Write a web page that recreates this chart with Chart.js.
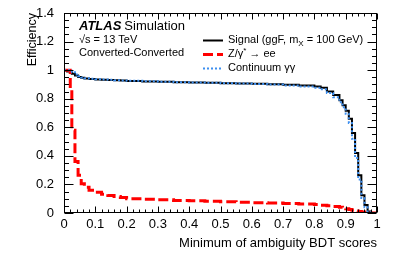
<!DOCTYPE html>
<html>
<head>
<meta charset="utf-8">
<script src="https://cdn.jsdelivr.net/npm/chart.js@4.4.0/dist/chart.umd.min.js"></script>
<style>
  html, body { margin: 0; padding: 0; background: #fff; }
  #wrap { width: 397px; height: 255px; }
</style>
</head>
<body>
<div id="wrap"><canvas id="effChart" width="397" height="255"></canvas></div>
<script>
// bin edges of the histograms (last one closes the last bin)
const binEdges = [0, 0.01, 0.02, 0.025, 0.035, 0.045, 0.055, 0.065, 0.08, 0.1,
  0.12, 0.14, 0.16, 0.18, 0.2, 0.25, 0.3, 0.35, 0.4, 0.45,
  0.5, 0.55, 0.6, 0.65, 0.7, 0.75, 0.8, 0.82, 0.84, 0.86,
  0.88, 0.89, 0.9, 0.91, 0.92, 0.93, 0.94, 0.95, 0.96, 0.97,
  0.98, 0.99, 1.0];

const signalEff = [1.0, 0.998, 0.99, 0.985, 0.975, 0.962, 0.952, 0.946, 0.942,
  0.938, 0.935, 0.933, 0.931, 0.929, 0.927, 0.924, 0.921, 0.918, 0.915,
  0.913, 0.911, 0.909, 0.907, 0.905, 0.902, 0.898, 0.892, 0.886, 0.877,
  0.85, 0.826, 0.79, 0.755, 0.715, 0.66, 0.56, 0.42, 0.265, 0.125,
  0.056, 0.01, 0.0];

const zeeEff = [1.0, 1.0, 1.0, 0.865, 0.58, 0.36, 0.265, 0.205, 0.18,
  0.16, 0.145, 0.132, 0.123, 0.115, 0.108, 0.1, 0.096, 0.092, 0.088,
  0.085, 0.082, 0.078, 0.075, 0.072, 0.07, 0.067, 0.063, 0.06, 0.055,
  0.05, 0.045, 0.04, 0.035, 0.03, 0.024, 0.019, 0.014, 0.01, 0.007,
  0.004, 0.002, 0.0];

const continuumEff = [1.0, 1.0, 1.0, 0.995, 0.985, 0.97, 0.958, 0.949, 0.944,
  0.94, 0.937, 0.934, 0.932, 0.930, 0.928, 0.925, 0.922, 0.919, 0.916,
  0.914, 0.912, 0.909, 0.906, 0.903, 0.899, 0.893, 0.885, 0.877, 0.866,
  0.84, 0.81, 0.775, 0.74, 0.695, 0.63, 0.52, 0.385, 0.235, 0.105,
  0.04, 0.005, 0.0];

const xTickLabels = ['0', '0.1', '0.2', '0.3', '0.4', '0.5', '0.6', '0.7', '0.8', '0.9', '1'];
const yTickLabels = ['0', '0.2', '0.4', '0.6', '0.8', '1', '1.2', '1.4'];

const FONT = '"Liberation Sans", Arial, Helvetica, sans-serif';

function histPoints(vals) {
  const pts = vals.map((v, i) => ({ x: binEdges[i], y: v }));
  pts.push({ x: binEdges[binEdges.length - 1], y: vals[vals.length - 1] });
  return pts;
}

// ROOT style frame with inward ticks, titles, ATLAS label and legend
const atlasDecor = {
  id: 'atlasDecor',
  afterDatasetsDraw(chart) {
    const { ctx, chartArea: a, scales: { x, y } } = chart;
    ctx.save();
    ctx.strokeStyle = '#000';
    ctx.lineWidth = 1;
    const L = Math.round(a.left) + 0.5, R = Math.round(a.right) - 0.5;
    const T = Math.round(a.top) + 0.5, B = Math.round(a.bottom) - 0.5;
    ctx.strokeRect(L, T, R - L, B - T);

    ctx.beginPath();
    for (let i = 0; i <= 50; i++) {
      const px = Math.round(x.getPixelForValue(i * 0.02)) + 0.5;
      const len = i % 5 === 0 ? 6 : 3;
      ctx.moveTo(px, B); ctx.lineTo(px, B - len);
      ctx.moveTo(px, T); ctx.lineTo(px, T + len);
    }
    for (let i = 0; i <= 28; i++) {
      const py = Math.round(y.getPixelForValue(i * 0.05)) + 0.5;
      const len = i % 4 === 0 ? 9 : 4.5;
      ctx.moveTo(L, py); ctx.lineTo(L + len, py);
      ctx.moveTo(R, py); ctx.lineTo(R - len, py);
    }
    ctx.stroke();

    ctx.fillStyle = '#000';
    ctx.textBaseline = 'alphabetic';

    // axis titles
    ctx.font = '13px ' + FONT;
    ctx.textAlign = 'right';
    ctx.fillText('Minimum of ambiguity BDT scores', a.right, 247);
    ctx.save();
    ctx.translate(36, a.top);
    ctx.rotate(-Math.PI / 2);
    ctx.font = '12.5px ' + FONT;
    ctx.fillText('Efficiency', 0, 0);
    ctx.restore();

    // ATLAS label
    ctx.textAlign = 'left';
    ctx.font = 'bold italic 13px ' + FONT;
    ctx.fillText('ATLAS', 79, 30);
    const w = ctx.measureText('ATLAS').width;
    ctx.font = '13px ' + FONT;
    ctx.fillText('Simulation', 79 + w + 3, 30);
    ctx.font = '11px ' + FONT;
    ctx.fillText('\u221As = 13 TeV', 79, 43);
    ctx.fillText('Converted-Converted', 79, 56);

    // legend
    const rows = [40, 54, 68];
    chart.data.datasets.forEach((ds, i) => {
      ctx.save();
      ctx.strokeStyle = ds.borderColor;
      ctx.lineWidth = ds.borderWidth;
      ctx.setLineDash(ds.borderDash || []);
      ctx.beginPath();
      ctx.moveTo(203, rows[i] + 0.5);
      ctx.lineTo(223, rows[i] + 0.5);
      ctx.stroke();
      ctx.restore();
    });
    let tx = 228;
    const parts = [['Signal (ggF, m', 0, 11], ['X', 3, 8], [' = 100 GeV)', 0, 11]];
    parts.forEach(p => {
      ctx.font = p[2] + 'px ' + FONT;
      ctx.fillText(p[0], tx, 43 + p[1]);
      tx += ctx.measureText(p[0]).width;
    });
    tx = 228;
    const zparts = [['Z/\u03B3', 0, 11], ['*', -4, 8], [' \u2192 ee', 0, 11]];
    zparts.forEach(p => {
      ctx.font = p[2] + 'px ' + FONT;
      ctx.fillText(p[0], tx, 57 + p[1]);
      tx += ctx.measureText(p[0]).width;
    });
    ctx.font = '11px ' + FONT;
    ctx.fillText('Continuum \u03B3\u03B3', 228, 71);
    ctx.restore();
  }
};

new Chart(document.getElementById('effChart'), {
  type: 'line',
  data: {
    datasets: [{
      label: 'Signal (ggF, mX = 100 GeV)',
      data: histPoints(signalEff),
      borderColor: '#000000',
      borderWidth: 2,
      stepped: 'after',
      pointRadius: 0,
      fill: false,
      order: 2
    }, {
      label: 'Z/γ* → ee',
      data: histPoints(zeeEff),
      borderColor: '#ff0000',
      borderWidth: 3,
      borderDash: [10, 4],
      stepped: 'after',
      pointRadius: 0,
      fill: false,
      order: 1
    }, {
      label: 'Continuum γγ',
      data: histPoints(continuumEff),
      borderColor: '#3d8ff0',
      borderWidth: 2,
      borderDash: [2, 2],
      stepped: 'after',
      pointRadius: 0,
      fill: false,
      order: 0
    }]
  },
  options: {
    responsive: false,
    animation: false,
    devicePixelRatio: 1,
    layout: { padding: { left: 0, right: 20, top: 13, bottom: 0 } },
    plugins: { legend: { display: false }, tooltip: { enabled: false } },
    scales: {
      x: {
        type: 'linear',
        min: 0,
        max: 1,
        grid: { display: false },
        border: { display: false },
        ticks: {
          stepSize: 0.1,
          autoSkip: false,
          maxRotation: 0,
          padding: -4,
          color: '#000',
          font: { family: FONT, size: 13 },
          callback: (v, i) => xTickLabels[i]
        },
        afterFit: s => { s.height = 42; }
      },
      y: {
        min: 0,
        max: 1.4,
        grid: { display: false },
        border: { display: false },
        ticks: {
          stepSize: 0.2,
          padding: 2,
          color: '#000',
          font: { family: FONT, size: 13 },
          callback: (v, i) => yTickLabels[i]
        },
        afterFit: s => { s.width = 64; }
      }
    }
  },
  plugins: [atlasDecor]
});
</script>
</body>
</html>
